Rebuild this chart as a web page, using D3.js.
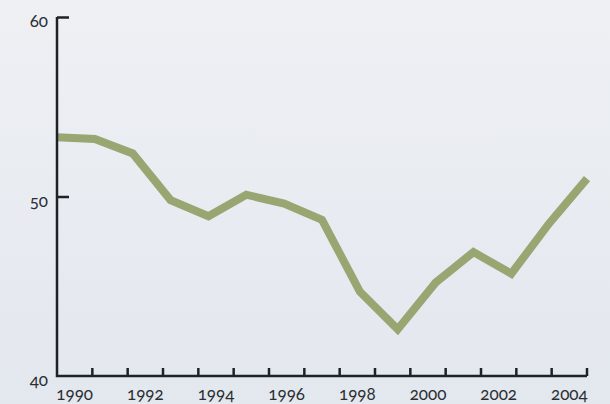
<!DOCTYPE html>
<html>
<head>
<meta charset="utf-8">
<script src="https://cdn.jsdelivr.net/npm/d3@7"></script>
<style>
  html, body { margin: 0; padding: 0; background: #e6eaf0; }
  svg { display: block; }
  .lbl { font-family: Lato, "DejaVu Serif", serif; font-size: 17px; fill: #2a2e32;
         font-variant-numeric: oldstyle-nums; font-feature-settings: "onum" 1; }
</style>
</head>
<body>
<div id="chart"></div>
<script>
// data
var years = [1990, 1991, 1992, 1993, 1994, 1995, 1996, 1997, 1998, 1999, 2000, 2001, 2002, 2003, 2004];
var values = [53.3, 53.2, 52.4, 49.8, 48.9, 50.1, 49.6, 48.7, 44.7, 42.6, 45.2, 46.9, 45.7, 48.5, 51.0];
var yTicks = [40, 50, 60];
var yearLabels = [1990, 1992, 1994, 1996, 1998, 2000, 2002, 2004];

var width = 610, height = 404;
var x0 = 57, x1 = 587, yTop = 17, yBot = 376;

let svg = d3.select("#chart")
  .append("svg")
  .attr("width", width)
  .attr("height", height);

// soft background like the scan
let bg = svg.append("defs").append("linearGradient")
  .attr("id", "bg").attr("x1", "0%").attr("y1", "0%").attr("x2", "0%").attr("y2", "100%");
bg.append("stop").attr("offset", "0%").attr("stop-color", "#eef0f4");
bg.append("stop").attr("offset", "100%").attr("stop-color", "#e3e7ee");
svg.append("rect").attr("width", width).attr("height", height).style("fill", "url(#bg)");

let xBand = d3.scaleBand().domain(years).range([x0, x1]);
let xPoint = d3.scalePoint().domain(years).range([x0, x1]);
let y = d3.scaleLinear().domain([40, 60]).range([yBot, yTop]);

// line
let line = d3.line()
  .x((d, i) => xPoint(years[i]))
  .y(d => y(d));

svg.append("path")
  .datum(values)
  .attr("d", line)
  .attr("fill", "none")
  .attr("stroke", "#98a672")
  .attr("stroke-width", 8)
  .attr("stroke-linejoin", "miter");

// y axis: ticks pointing inward
let yAxis = d3.axisRight(y).tickValues([50, 60]).tickSize(12).tickFormat("");
let gy = svg.append("g").attr("transform", "translate(" + x0 + ",0)").call(yAxis);
gy.select(".domain").remove();
gy.selectAll(".tick line").attr("stroke", "#1d2226").attr("stroke-width", 2.5);

// x axis: ticks at the right end of each year band, pointing up
let xAxis = d3.axisTop(xBand).tickSize(8).tickFormat("");
let gx = svg.append("g").attr("transform", "translate(0," + yBot + ")").call(xAxis);
gx.select(".domain").remove();
gx.selectAll(".tick")
  .attr("transform", d => "translate(" + (xBand(d) + xBand.bandwidth()) + ",0)");
gx.selectAll(".tick line").attr("stroke", "#1d2226").attr("stroke-width", 2.5);

// axis lines
svg.append("path")
  .attr("d", "M" + x0 + "," + yTop + "V" + yBot + "H" + x1)
  .attr("fill", "none")
  .attr("stroke", "#1d2226")
  .attr("stroke-width", 2.5);

// y labels
svg.selectAll(".ylbl")
  .data(yTicks)
  .enter()
  .append("text")
  .attr("class", "lbl")
  .attr("x", x0 - 9)
  .attr("y", d => y(d) + 10)
  .attr("text-anchor", "end")
  .text(d => d);

// x labels centred under each year band
svg.selectAll(".xlbl")
  .data(yearLabels)
  .enter()
  .append("text")
  .attr("class", "lbl")
  .attr("x", d => xBand(d) + xBand.bandwidth() / 2)
  .attr("y", yBot + 24)
  .attr("text-anchor", "middle")
  .text(d => d);
</script>
</body>
</html>
